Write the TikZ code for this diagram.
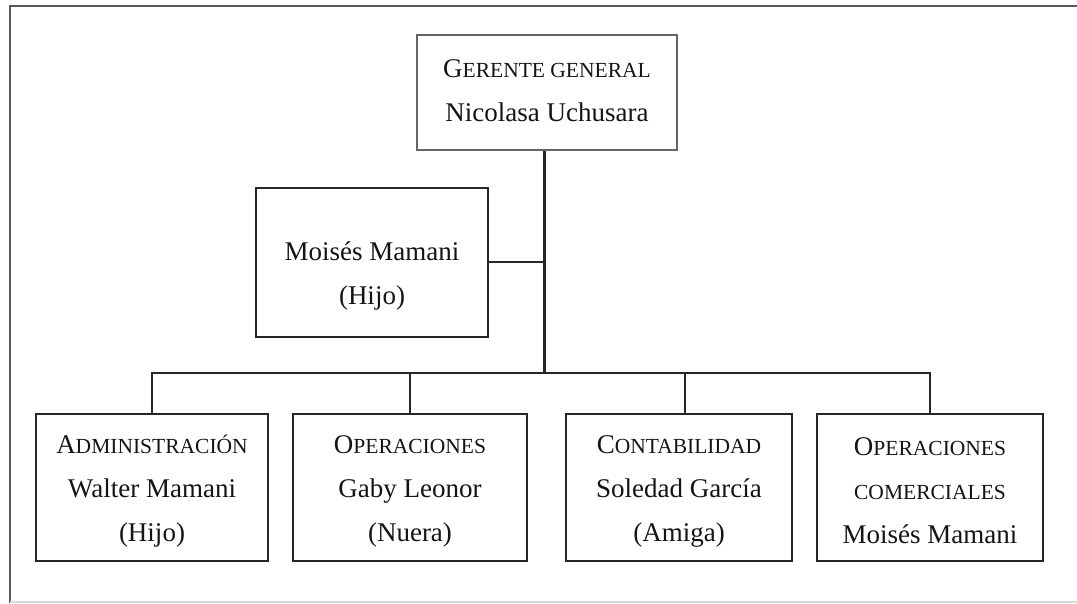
\documentclass[tikz,border=0pt]{standalone}
\usepackage{fontspec}
\setmainfont{Liberation Serif}
\newcommand\fsc[2]{#1{\fontsize{21.5}{44}\selectfont #2}}
\begin{document}
\begin{tikzpicture}[x=1pt,y=-1pt,
  box/.style={draw=black!85, line width=2.3pt, inner sep=0pt},
  topbox/.style={draw=black!60, line width=1.7pt, inner sep=0pt},
  txt/.style={font=\fontsize{27}{44}\selectfont, align=center, text=black!92, inner sep=0pt},
  conn/.style={draw=black!85, line width=2.3pt},
  frame/.style={draw=black!65, line width=2.2pt}]
\useasboundingbox (0,0) rectangle (1077,603);
% outer frame
\draw[frame] (10,603) -- (10,6) -- (1077,6);
\draw[draw=black!15, line width=1.2pt] (10,602) -- (1077,602);
% boxes
\node[topbox, minimum width=260pt, minimum height=115pt] (top) at (547,92.5) {};
\node[box, minimum width=232pt, minimum height=149pt] (mid) at (372,262.5) {};
\node[box, minimum width=232pt, minimum height=147pt] (b1) at (152,487.5) {};
\node[box, minimum width=234pt, minimum height=147pt] (b2) at (410,487.5) {};
\node[box, minimum width=226pt, minimum height=147pt] (b3) at (679,487.5) {};
\node[box, minimum width=226pt, minimum height=147pt] (b4) at (930,487.5) {};
% texts
\node[txt] (ttop) at ([yshift=2pt]top.center) {\fsc{G}{ERENTE GENERAL}\\Nicolasa Uchusara};
\node[txt] (tmid) at ([yshift=-13pt]mid.center) {Moisés Mamani\\(Hijo)};
\node[txt] (tb1) at ([yshift=-4pt]b1.center) {\fsc{A}{DMINISTRACIÓN}\\Walter Mamani\\(Hijo)};
\node[txt] (tb2) at ([yshift=-4pt]b2.center) {\fsc{O}{PERACIONES}\\Gaby Leonor\\(Nuera)};
\node[txt] (tb3) at ([yshift=-4pt]b3.center) {\fsc{C}{ONTABILIDAD}\\Soledad García\\(Amiga)};
\node[txt] (tb4) at ([yshift=-3pt]b4.center) {\fsc{O}{PERACIONES}\\\fsc{}{COMERCIALES}\\Moisés Mamani};
% connectors
\coordinate (j) at (544.5,373);
\coordinate (jm) at (544.5,262);
\draw[conn] (top.south -| j) -- (j);
\draw[conn] (mid.east |- jm) -- (jm);
\draw[conn] (b1.north) -- (b1.north |- j) -- (b4.north |- j) -- (b4.north);
\draw[conn] (b2.north) -- (b2.north |- j);
\draw[conn] ([xshift=6pt]b3.north) -- ([xshift=6pt]b3.north |- j);
\end{tikzpicture}
\end{document}
